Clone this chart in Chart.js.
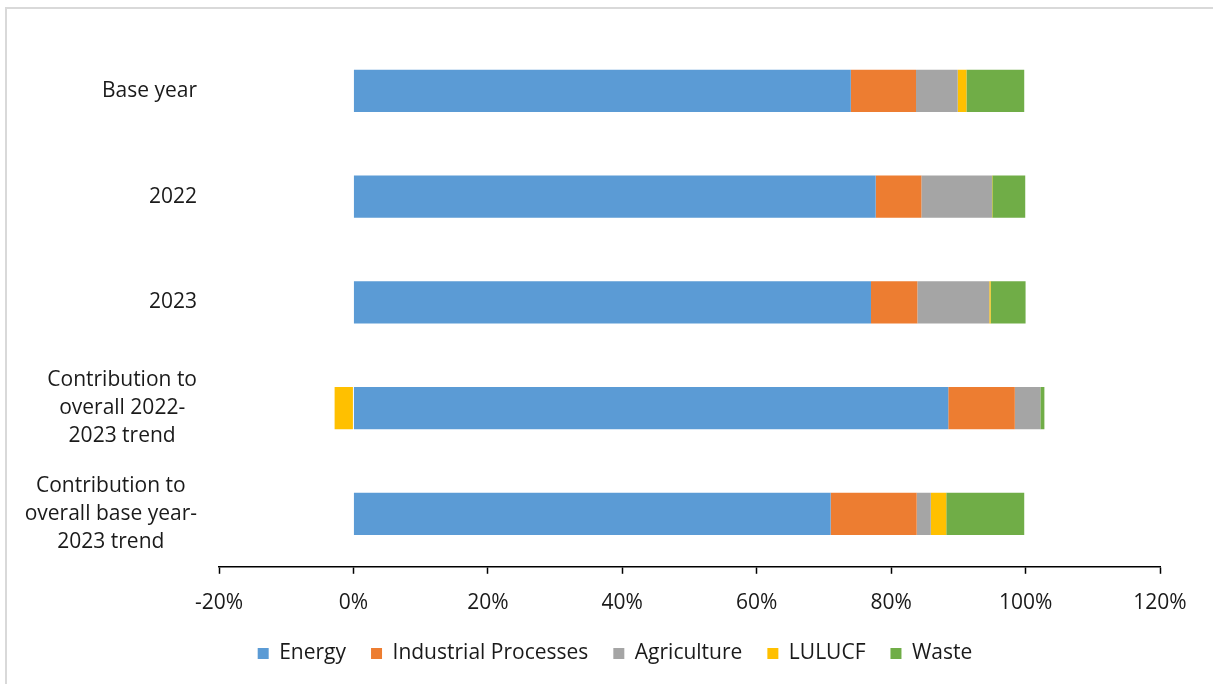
<!DOCTYPE html>
<html>
<head>
<meta charset="utf-8">
<script src="https://cdn.jsdelivr.net/npm/chart.js@4/dist/chart.umd.min.js"></script>
<style>
  body { margin: 0; background: #fff; overflow: hidden; }
  .frame { position: absolute; left: 5px; top: 7px; width: 1400px; height: 900px; border: 2px solid #d9d9d9; }
  #chart { position: absolute; left: 0; top: 0; }
</style>
</head>
<body>
<div class="frame"></div>
<canvas id="chart" width="1213" height="684"></canvas>
<script>
const categories = [
    "Base year",
    "2022",
    "2023",
    ["Contribution to", "overall 2022-", "2023 trend"],
    ["Contribution to", "overall base year-", "2023 trend"]
];
const energy = [74.0, 77.7, 77.0, 88.5, 71.0];
const industrial = [9.7, 6.8, 6.9, 9.9, 12.8];
const agriculture = [6.2, 10.5, 10.7, 3.8, 2.1];
const lulucf = [1.3, 0.05, 0.2, -2.8, 2.3];
const waste = [8.6, 4.9, 5.2, 0.6, 11.6];
const xTicks = [-20, 0, 20, 40, 60, 80, 100, 120];

const font = "'Open Sans', sans-serif";
const textColor = "#1a1a1a";

// category labels: block right-aligned, lines centred inside (like Excel)
const yLabels = {
    id: "yLabels",
    afterDraw(chart) {
        const ctx = chart.ctx;
        const y = chart.scales.y;
        ctx.save();
        ctx.font = "21px " + font;
        ctx.fillStyle = textColor;
        ctx.textAlign = "center";
        ctx.textBaseline = "middle";
        categories.forEach((lab, i) => {
            const lines = Array.isArray(lab) ? lab : [lab];
            const w = Math.max(...lines.map(l => ctx.measureText(l).width));
            const cx = 197 - w / 2;
            const cy = y.getPixelForValue(i);
            lines.forEach((l, k) => {
                ctx.fillText(l, cx, cy + (k - (lines.length - 1) / 2) * 28);
            });
        });
        ctx.restore();
    }
};

const ds = (label, data, color) => ({
    label: label,
    data: data,
    backgroundColor: color,
    borderWidth: 0,
    barPercentage: 0.4,
    categoryPercentage: 1
});

new Chart(document.getElementById("chart"), {
    type: "bar",
    data: {
        labels: categories,
        datasets: [
            ds("Energy", energy, "#5B9BD5"),
            ds("Industrial Processes", industrial, "#ED7D31"),
            ds("Agriculture", agriculture, "#A5A5A5"),
            ds("LULUCF", lulucf, "#FFC000"),
            ds("Waste", waste, "#70AD47")
        ]
    },
    options: {
        indexAxis: "y",
        responsive: false,
        animation: false,
        devicePixelRatio: 1,
        layout: { padding: { top: 38, right: 53, left: 70, bottom: 10 } },
        scales: {
            x: {
                stacked: true,
                min: -20,
                max: 120,
                afterBuildTicks: s => { s.ticks = xTicks.map(v => ({ value: v })); },
                afterFit: s => { s.height -= 15; },
                ticks: {
                    callback: v => v + "%",
                    color: textColor,
                    font: { family: font, size: 21 },
                    padding: 17,
                    maxRotation: 0
                },
                grid: { display: true, drawOnChartArea: false, drawTicks: true, tickLength: 7, tickColor: "#000", tickWidth: 1.5 },
                border: { display: true, color: "#000", width: 1.5 }
            },
            y: {
                stacked: true,
                grid: { display: false },
                border: { display: false },
                ticks: { display: false },
                afterFit: s => { s.width = 149; }
            }
        },
        plugins: {
            tooltip: { enabled: false },
            legend: {
                position: "bottom",
                labels: {
                    boxWidth: 11,
                    boxHeight: 11,
                    padding: 25,
                    color: textColor,
                    font: { family: font, size: 21 }
                }
            }
        }
    },
    plugins: [yLabels]
});
</script>
</body>
</html>
